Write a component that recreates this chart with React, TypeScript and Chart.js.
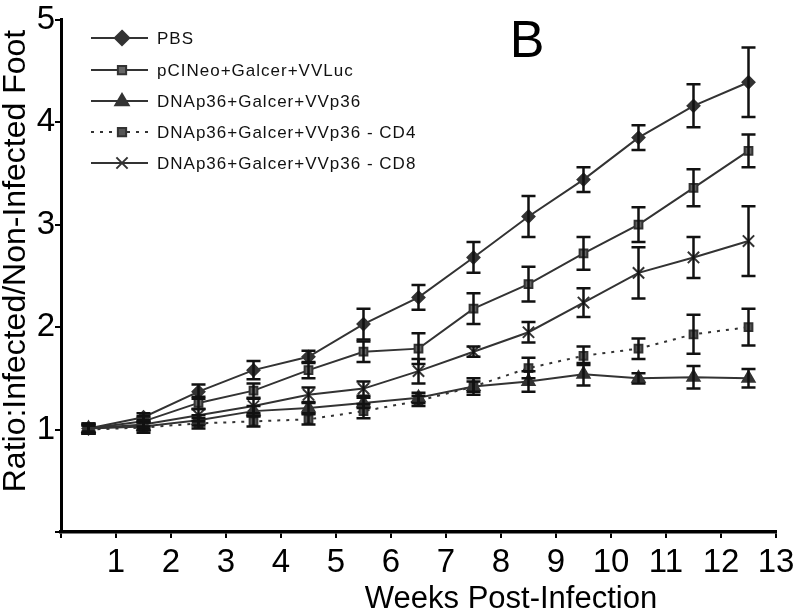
import React, { useEffect, useRef } from "react";
import { Chart, registerables } from "chart.js";

Chart.register(...registerables);

const weeks = [0.5, 1.5, 2.5, 3.5, 4.5, 5.5, 6.5, 7.5, 8.5, 9.5, 10.5, 11.5, 12.5];
const xTicks = [0, 1, 2, 3, 4, 5, 6, 7, 8, 9, 10, 11, 12, 13];
const yTicks = [0, 1, 2, 3, 4, 5];

const seriesNames = [
  "PBS",
  "pCINeo+Galcer+VVLuc",
  "DNAp36+Galcer+VVp36",
  "DNAp36+Galcer+VVp36 - CD4",
  "DNAp36+Galcer+VVp36 - CD8",
];

const pbs = [1.01, 1.12, 1.37, 1.58, 1.71, 2.03, 2.29, 2.68, 3.08, 3.44, 3.85, 4.16, 4.39];
const pbsErr = [0.05, 0.04, 0.07, 0.09, 0.06, 0.15, 0.12, 0.15, 0.2, 0.12, 0.12, 0.21, 0.34];
const pci = [1.01, 1.08, 1.26, 1.38, 1.58, 1.76, 1.79, 2.18, 2.42, 2.72, 3.0, 3.36, 3.72];
const pciErr = [0.05, 0.05, 0.06, 0.07, 0.08, 0.1, 0.15, 0.15, 0.17, 0.16, 0.17, 0.18, 0.16];
const dna = [1.01, 1.03, 1.09, 1.18, 1.21, 1.26, 1.31, 1.42, 1.47, 1.54, 1.5, 1.51, 1.5];
const dnaErr = [0.04, 0.04, 0.05, 0.05, 0.05, 0.05, 0.05, 0.05, 0.1, 0.11, 0.05, 0.11, 0.09];
const cd4 = [1.0, 1.02, 1.06, 1.08, 1.1, 1.18, 1.28, 1.42, 1.6, 1.72, 1.79, 1.93, 2.0];
const cd4Err = [0.04, 0.05, 0.05, 0.05, 0.05, 0.07, 0.05, 0.08, 0.1, 0.09, 0.1, 0.19, 0.18];
const cd8 = [1.01, 1.05, 1.14, 1.23, 1.34, 1.4, 1.57, 1.76, 1.95, 2.24, 2.53, 2.68, 2.84];
const cd8Err = [0.03, 0.04, 0.06, 0.07, 0.07, 0.07, 0.12, 0.05, 0.1, 0.14, 0.25, 0.2, 0.34];

const seriesValues = [pbs, pci, dna, cd4, cd8];
const seriesErrors = [pbsErr, pciErr, dnaErr, cd4Err, cd8Err];

const panelLabel = "B";
const xTitle = "Weeks Post-Infection";
const yTitle = "Ratio:Infected/Non-Infected Foot";

const FONT = "'Liberation Sans', Arial, sans-serif";
const LINE = "#333333";

const styles = [
  { pointStyle: "rectRot", radius: 6, fill: "#333333", dash: [] as number[] },
  { pointStyle: "rect", radius: 5.5, fill: "#666666", dash: [] as number[] },
  { pointStyle: "triangle", radius: 7, fill: "#333333", dash: [] as number[] },
  { pointStyle: "rect", radius: 5.5, fill: "#555555", dash: [3, 6] },
  { pointStyle: "crossRot", radius: 8, fill: "#333333", dash: [] as number[] },
];

const errorBarPlugin = {
  id: "errorBars",
  afterDatasetsDraw(chart: any) {
    const ctx = chart.ctx;
    const y = chart.scales.y;
    ctx.save();
    ctx.strokeStyle = "#111111";
    ctx.lineWidth = 2.5;
    chart.data.datasets.forEach((ds: any, i: number) => {
      const meta = chart.getDatasetMeta(i);
      const errs = seriesErrors[i];
      meta.data.forEach((pt: any, j: number) => {
        const v = seriesValues[i][j];
        const e = errs[j];
        const top = y.getPixelForValue(v + e);
        const bot = y.getPixelForValue(v - e);
        const x = pt.x;
        ctx.beginPath();
        ctx.moveTo(x, top);
        ctx.lineTo(x, bot);
        ctx.moveTo(x - 7, top);
        ctx.lineTo(x + 7, top);
        ctx.moveTo(x - 7, bot);
        ctx.lineTo(x + 7, bot);
        ctx.stroke();
      });
    });
    ctx.restore();
  },
};

const decorPlugin = {
  id: "decor",
  afterDraw(chart: any) {
    const ctx = chart.ctx;
    ctx.save();
    // legend
    const lx0 = 91;
    const lx1 = 148;
    const mx = 122;
    const tx = 157;
    const rows = [38, 70, 101, 132, 163];
    chart.data.datasets.forEach((ds: any, i: number) => {
      const yy = rows[i];
      ctx.save();
      ctx.strokeStyle = LINE;
      ctx.lineWidth = 2;
      ctx.setLineDash(styles[i].dash);
      ctx.beginPath();
      ctx.moveTo(lx0, yy);
      ctx.lineTo(lx1, yy);
      ctx.stroke();
      ctx.restore();
      ctx.save();
      ctx.fillStyle = styles[i].fill;
      ctx.strokeStyle = LINE;
      ctx.lineWidth = 2;
      (Chart as any).helpers
        ? null
        : null;
      drawPointLocal(ctx, styles[i].pointStyle, styles[i].radius, mx, yy);
      ctx.restore();
      ctx.fillStyle = "#111111";
      ctx.font = `17px ${FONT}`;
      (ctx as any).letterSpacing = "1px";
      ctx.textBaseline = "middle";
      ctx.textAlign = "left";
      ctx.fillText(ds.label, tx, yy + 1);
    });
    (ctx as any).letterSpacing = "0px";
    // panel label
    ctx.fillStyle = "#000000";
    ctx.font = `52px ${FONT}`;
    ctx.textAlign = "center";
    ctx.textBaseline = "alphabetic";
    ctx.fillText(panelLabel, 527, 57);
    // x title
    ctx.font = `31px ${FONT}`;
    ctx.textAlign = "center";
    ctx.textBaseline = "alphabetic";
    ctx.fillText(xTitle, 511, 608);
    // y title
    ctx.save();
    ctx.translate(25, 261);
    ctx.rotate(-Math.PI / 2);
    ctx.font = `32px ${FONT}`;
    ctx.textAlign = "center";
    ctx.textBaseline = "alphabetic";
    ctx.fillText(yTitle, 0, 0);
    ctx.restore();
    ctx.restore();
  },
};

function drawPointLocal(ctx: CanvasRenderingContext2D, style: string, r: number, x: number, y: number) {
  ctx.beginPath();
  if (style === "rectRot") {
    ctx.moveTo(x, y - r * 1.2);
    ctx.lineTo(x + r * 1.2, y);
    ctx.lineTo(x, y + r * 1.2);
    ctx.lineTo(x - r * 1.2, y);
    ctx.closePath();
    ctx.fill();
    ctx.stroke();
  } else if (style === "rect") {
    const s = r * 0.75;
    ctx.rect(x - s, y - s, 2 * s, 2 * s);
    ctx.fill();
    ctx.stroke();
  } else if (style === "triangle") {
    ctx.moveTo(x, y - r);
    ctx.lineTo(x + r * 0.95, y + r * 0.6);
    ctx.lineTo(x - r * 0.95, y + r * 0.6);
    ctx.closePath();
    ctx.fill();
    ctx.stroke();
  } else {
    const s = r * 0.7;
    ctx.moveTo(x - s, y - s);
    ctx.lineTo(x + s, y + s);
    ctx.moveTo(x + s, y - s);
    ctx.lineTo(x - s, y + s);
    ctx.stroke();
  }
}

export default function App() {
  const ref = useRef<HTMLCanvasElement | null>(null);
  useEffect(() => {
    if (!ref.current) return;
    const datasets = seriesNames.map((name, i) => ({
      label: name,
      data: weeks.map((w, j) => ({ x: w, y: seriesValues[i][j] })),
      borderColor: LINE,
      borderWidth: 2,
      borderDash: styles[i].dash,
      backgroundColor: styles[i].fill,
      pointStyle: styles[i].pointStyle,
      pointRadius: styles[i].radius,
      pointBorderColor: LINE,
      pointBorderWidth: 2,
      pointBackgroundColor: styles[i].fill,
      tension: 0,
      fill: false,
    }));
    const chart = new Chart(ref.current, {
      type: "line",
      data: { datasets },
      options: {
        responsive: false,
        animation: false,
        events: [],
        layout: { padding: { top: 10, right: 24, left: 0, bottom: 0 }, autoPadding: false },
        plugins: { legend: { display: false }, tooltip: { enabled: false } },
        scales: {
          x: {
            type: "linear",
            min: 0,
            max: 13,
            afterFit: (s: any) => {
              s.height = 81;
            },
            afterBuildTicks: (s: any) => {
              s.ticks = xTicks.map((v) => ({ value: v }));
            },
            ticks: {
              color: "#000",
              font: { family: FONT, size: 33 },
              padding: 5,
              maxRotation: 0,
              autoSkip: false,
              callback: (v: any) => (v === 0 ? "" : String(v)),
            },
            grid: { drawOnChartArea: false, drawTicks: true, tickLength: 6, color: "#000", lineWidth: 2 },
            border: { display: true, color: "#000", width: 3.5 },
          },
          y: {
            type: "linear",
            min: 0,
            max: 5,
            afterFit: (s: any) => {
              s.width = 61;
            },
            afterBuildTicks: (s: any) => {
              s.ticks = yTicks.map((v) => ({ value: v }));
            },
            ticks: {
              color: "#000",
              font: { family: FONT, size: 33 },
              padding: 0,
              autoSkip: false,
              callback: (v: any) => (v === 0 ? "" : String(v)),
            },
            grid: { drawOnChartArea: false, drawTicks: true, tickLength: 6, color: "#000", lineWidth: 2 },
            border: { display: true, color: "#000", width: 3 },
          },
        },
      },
      plugins: [errorBarPlugin, decorPlugin],
    } as any);
    return () => chart.destroy();
  }, []);
  return (
    <div style={{ position: "absolute", left: 0, top: 0, width: 800, height: 613, background: "#fff" }}>
      <canvas ref={ref} width={800} height={613} style={{ width: 800, height: 613 }} />
    </div>
  );
}
